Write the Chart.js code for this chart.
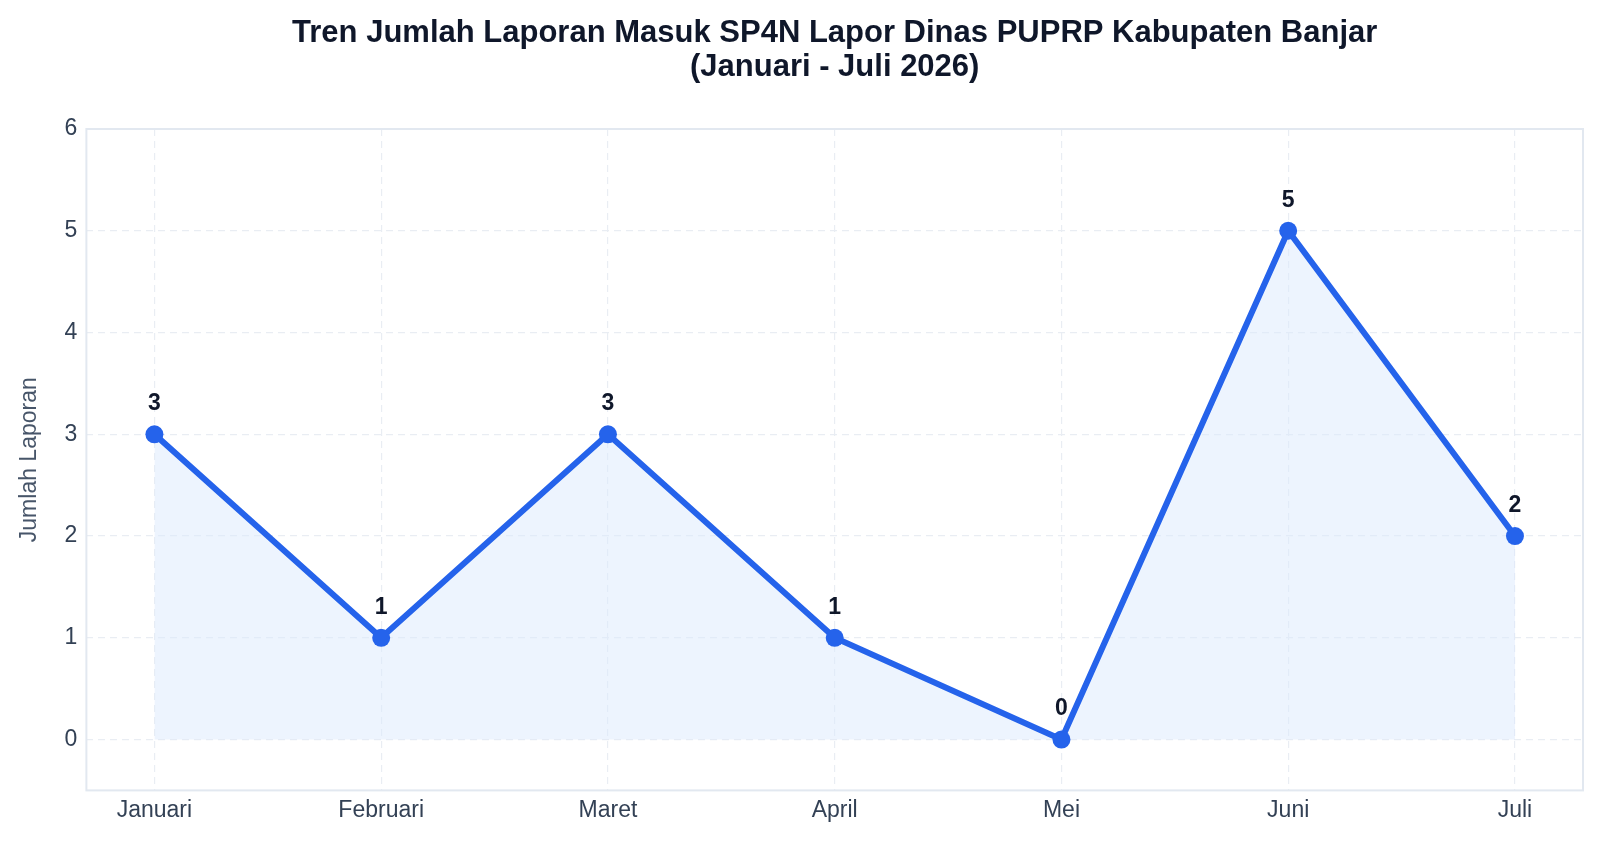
<!DOCTYPE html>
<html>
<head>
<meta charset="utf-8">
<script src="https://cdn.jsdelivr.net/npm/chart.js@4.4.1/dist/chart.umd.min.js"></script>
<style>
  html, body { margin: 0; padding: 0; background: #fff; }
  #wrap { width: 1600px; height: 845px; }
</style>
</head>
<body>
<div id="wrap"><canvas id="trend-chart"></canvas></div>
<script>
// Data laporan masuk per bulan
const months = ['Januari', 'Februari', 'Maret', 'April', 'Mei', 'Juni', 'Juli'];
const reports = [3, 1, 3, 1, 0, 5, 2];
const yTicks = [0, 1, 2, 3, 4, 5, 6];
const titleLines = ['Tren Jumlah Laporan Masuk SP4N Lapor Dinas PUPRP Kabupaten Banjar', '(Januari - Juli 2026)'];

const FONT = '"Liberation Sans", Arial, sans-serif';
const BLUE = '#2563eb';

// Frame around the plot area (all four sides)
const framePlugin = {
    id: 'frame',
    beforeDatasetsDraw(chart) {
        const { ctx, chartArea: a } = chart;
        ctx.save();
        ctx.strokeStyle = '#e2e8f0';
        ctx.lineWidth = 2;
        ctx.strokeRect(a.left, a.top, a.right - a.left, a.bottom - a.top);
        ctx.restore();
    }
};

// Title centred over the plot area, not the whole canvas
const plotTitle = {
    id: 'plotTitle',
    afterDraw(chart) {
        const { ctx, chartArea: a } = chart;
        const cx = (a.left + a.right) / 2;
        ctx.save();
        ctx.font = 'bold 31px ' + FONT;
        ctx.fillStyle = '#0f172a';
        ctx.textAlign = 'center';
        ctx.textBaseline = 'middle';
        titleLines.forEach((line, i) => ctx.fillText(line, cx, 33 + i * 34));
        ctx.restore();
    }
};

// Value labels above each point
const valueLabels = {
    id: 'valueLabels',
    afterDatasetsDraw(chart) {
        const { ctx } = chart;
        const meta = chart.getDatasetMeta(0);
        ctx.save();
        ctx.font = 'bold 23px ' + FONT;
        ctx.fillStyle = '#0f172a';
        ctx.textAlign = 'center';
        ctx.textBaseline = 'bottom';
        meta.data.forEach((pt, i) => {
            ctx.fillText(String(reports[i]), pt.x, pt.y - 19);
        });
        ctx.restore();
    }
};

const points = reports.map((v, i) => ({ x: i, y: v }));

new Chart(document.getElementById('trend-chart'), {
    type: 'line',
    data: {
        datasets: [{
            data: points,
            borderColor: BLUE,
            borderWidth: 6,
            backgroundColor: 'rgba(219, 234, 254, 0.5)',
            fill: 'origin',
            tension: 0,
            pointRadius: 9,
            pointBackgroundColor: BLUE,
            pointBorderColor: BLUE,
            pointBorderWidth: 0
        }]
    },
    options: {
        responsive: true,
        maintainAspectRatio: false,
        animation: false,
        layout: {
            padding: { left: 16, right: 17, top: 129, bottom: 15 }
        },
        plugins: {
            legend: { display: false },
            tooltip: { enabled: false },
            title: { display: false }
        },
        scales: {
            x: {
                type: 'linear',
                min: -0.3,
                max: 6.3,
                afterBuildTicks: s => { s.ticks = months.map((m, i) => ({ value: i })); },
                ticks: {
                    color: '#334155',
                    font: { family: FONT, size: 23 },
                    padding: 6,
                    callback: v => months[v]
                },
                grid: { color: '#e9edf3', lineWidth: 1.2, drawTicks: false },
                border: { display: false, dash: [7, 5] }
            },
            y: {
                min: -0.5,
                max: 6,
                afterBuildTicks: s => { s.ticks = yTicks.map(v => ({ value: v })); },
                ticks: {
                    color: '#334155',
                    font: { family: FONT, size: 23 },
                    padding: 9
                },
                grid: { color: '#e9edf3', lineWidth: 1.2, drawTicks: false },
                border: { display: false, dash: [7, 5] },
                title: {
                    display: true,
                    text: 'Jumlah Laporan',
                    color: '#475569',
                    font: { family: FONT, size: 23 },
                    padding: { top: 0, bottom: 12 }
                }
            }
        }
    },
    plugins: [framePlugin, valueLabels, plotTitle]
});
</script>
</body>
</html>
